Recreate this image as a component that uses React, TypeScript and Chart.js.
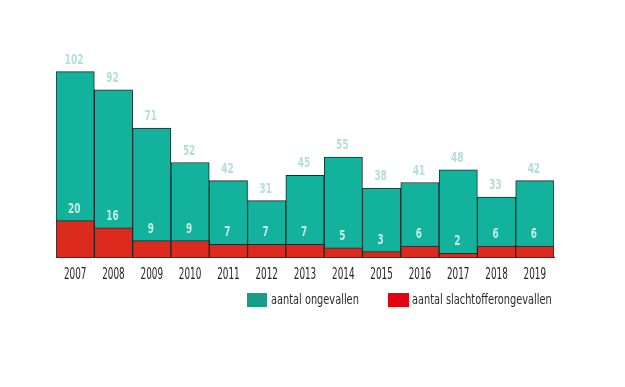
import React, { useEffect, useRef } from "react";
import { Chart, registerables } from "chart.js";

Chart.register(...registerables);

const years = ["2007", "2008", "2009", "2010", "2011", "2012", "2013", "2014", "2015", "2016", "2017", "2018", "2019"];
const ongevallen = [102, 92, 71, 52, 42, 31, 45, 55, 38, 41, 48, 33, 42];
const slachtoffer = [20, 16, 9, 9, 7, 7, 7, 5, 3, 6, 2, 6, 6];

const FONT = "'DejaVu Sans', sans-serif";

function drawNarrow(ctx: any, text: string, x: number, y: number, sx: number) {
  ctx.save();
  ctx.translate(x, y);
  ctx.scale(sx, 1);
  ctx.fillText(text, 0, 0);
  ctx.restore();
}

const labelPlugin = {
  id: "valueLabels",
  afterDatasetsDraw(chart: any) {
    const ctx = chart.ctx;
    ctx.save();
    ctx.textAlign = "center";
    ctx.textBaseline = "alphabetic";
    ctx.font = `600 13.5px ${FONT}`;
    chart.data.datasets.forEach((ds: any, di: number) => {
      const meta = chart.getDatasetMeta(di);
      meta.data.forEach((bar: any, i: number) => {
        ctx.fillStyle = di === 0 ? "#b3e0d6" : "#c6ede4";
        drawNarrow(ctx, String(ds.data[i]), bar.x - 1, bar.y - 8, 0.66);
      });
    });
    const xs = chart.scales.x;
    ctx.font = `15.5px ${FONT}`;
    ctx.fillStyle = "#1e1e1e";
    years.forEach((y, i) => {
      drawNarrow(ctx, y, xs.getPixelForValue(i), 278.5, 0.57);
    });
    ctx.restore();
  },
};

export default function App() {
  const ref = useRef<HTMLCanvasElement>(null);
  useEffect(() => {
    document.body.style.margin = "0";
    const chart = new Chart(ref.current!, {
      type: "bar",
      data: {
        labels: years,
        datasets: [
          {
            label: "aantal ongevallen",
            data: ongevallen,
            backgroundColor: "#12b29c",
            borderColor: "#1c2b2a",
            borderWidth: 1,
            borderSkipped: "bottom",
            categoryPercentage: 1,
            barPercentage: 1,
            grouped: false,
            order: 1,
          },
          {
            label: "aantal slachtofferongevallen",
            data: slachtoffer,
            backgroundColor: "#dc2b1e",
            borderColor: "#1c2b2a",
            borderWidth: 1,
            borderSkipped: "bottom",
            categoryPercentage: 1,
            barPercentage: 1,
            grouped: false,
            order: 0,
          },
        ],
      },
      options: {
        animation: false,
        responsive: false,
        layout: { padding: { top: 39, left: 56, right: 71, bottom: 130 } },
        plugins: { legend: { display: false }, tooltip: { enabled: false } },
        scales: {
          x: {
            grid: { display: false, drawTicks: false },
            border: { display: true, color: "#333", width: 1 },
            ticks: { display: false },
          },
          y: { display: false, min: 0, max: 120 },
        },
      },
      plugins: [labelPlugin],
    });
    return () => chart.destroy();
  }, []);

  const legendText: React.CSSProperties = {
    fontFamily: FONT,
    fontSize: 14,
    lineHeight: "16px",
    color: "#2a2a2a",
    position: "absolute",
    top: 291,
    whiteSpace: "nowrap",
    transform: "scaleX(0.7)",
    transformOrigin: "left center",
  };
  return (
    <div style={{ position: "relative", width: 625, height: 387, background: "#fff" }}>
      <canvas ref={ref} width={625} height={387} style={{ display: "block" }} />
      <div style={{ position: "absolute", left: 247, top: 293, width: 20, height: 14, background: "#169e88" }} />
      <div style={{ ...legendText, left: 271 }}>aantal ongevallen</div>
      <div style={{ position: "absolute", left: 388, top: 293, width: 21, height: 14, background: "#e3000f" }} />
      <div style={{ ...legendText, left: 412 }}>aantal slachtofferongevallen</div>
    </div>
  );
}
